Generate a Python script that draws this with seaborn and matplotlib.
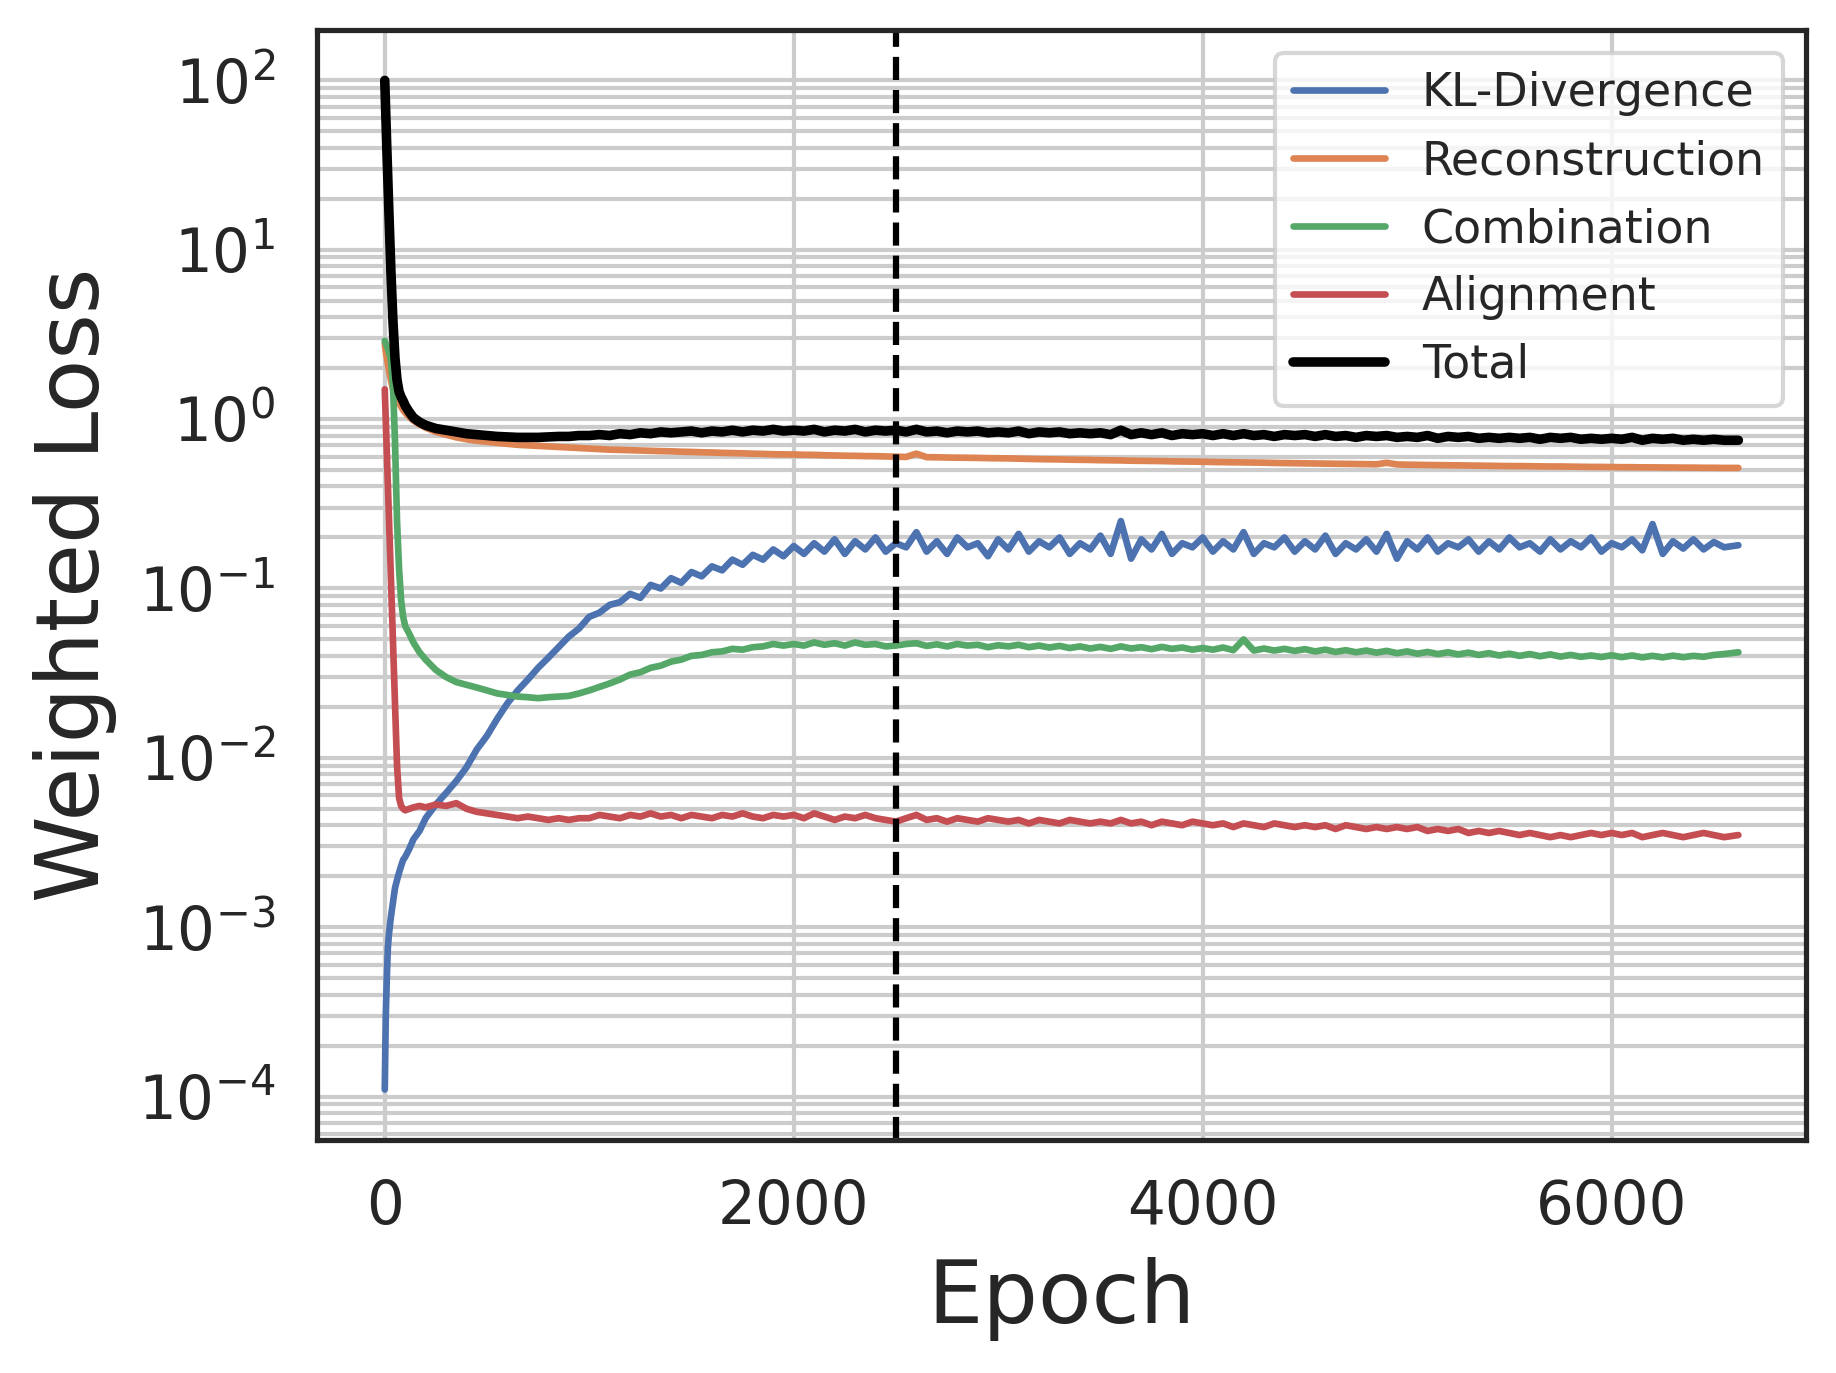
""" Weighted training losses per epoch on a log scale """

import matplotlib
matplotlib.use("Agg")
import matplotlib.pyplot as plt
import pandas as pd
import seaborn as sns


epochs = [0, 5, 10, 15, 20, 30, 40, 50, 60, 70, 80, 90, 100, 120, 140, 170,
          200, 250, 300, 350, 400, 450, 500, 550, 600, 650, 700, 750, 800, 850,
          900, 950,
          1000, 1050, 1100, 1150, 1200, 1250, 1300, 1350, 1400, 1450,
          1500, 1550, 1600, 1650, 1700, 1750, 1800, 1850, 1900, 1950,
          2000, 2050, 2100, 2150, 2200, 2250, 2300, 2350, 2400, 2450,
          2500, 2550, 2600, 2650, 2700, 2750, 2800, 2850, 2900, 2950,
          3000, 3050, 3100, 3150, 3200, 3250, 3300, 3350, 3400, 3450,
          3500, 3550, 3600, 3650, 3700, 3750, 3800, 3850, 3900, 3950,
          4000, 4050, 4100, 4150, 4200, 4250, 4300, 4350, 4400, 4450,
          4500, 4550, 4600, 4650, 4700, 4750, 4800, 4850, 4900, 4950,
          5000, 5050, 5100, 5150, 5200, 5250, 5300, 5350, 5400, 5450,
          5500, 5550, 5600, 5650, 5700, 5750, 5800, 5850, 5900, 5950,
          6000, 6050, 6100, 6150, 6200, 6250, 6300, 6350, 6400, 6450,
          6500, 6550, 6620]

kl_divergence = [1.1e-4, 3.0e-4, 5.0e-4, 7.5e-4, 9.0e-4, 1.15e-3, 1.4e-3, 1.7e-3,
                 1.9e-3, 2.1e-3, 2.3e-3, 2.5e-3, 2.6e-3, 2.9e-3, 3.3e-3, 3.7e-3,
                 4.4e-3, 5.3e-3, 6.2e-3, 7.3e-3, 8.8e-3, 0.0112, 0.0135, 0.017,
                 0.021, 0.025, 0.029, 0.034, 0.039, 0.045, 0.052, 0.058,
                 0.068, 0.072, 0.080, 0.083, 0.093, 0.088, 0.105, 0.100, 0.115, 0.108,
                 0.125, 0.118, 0.135, 0.128, 0.148, 0.138, 0.158, 0.148, 0.170, 0.155,
                 0.178, 0.160, 0.185, 0.165, 0.195, 0.160, 0.190, 0.170, 0.200, 0.165,
                 0.185, 0.175, 0.215, 0.165, 0.190, 0.160, 0.200, 0.175, 0.185, 0.155,
                 0.195, 0.170, 0.210, 0.165, 0.190, 0.175, 0.200, 0.160, 0.185, 0.170,
                 0.205, 0.160, 0.250, 0.150, 0.195, 0.170, 0.210, 0.160, 0.185, 0.175,
                 0.200, 0.165, 0.190, 0.170, 0.215, 0.160, 0.185, 0.175, 0.200, 0.165,
                 0.190, 0.170, 0.205, 0.160, 0.185, 0.170, 0.195, 0.165, 0.210, 0.150,
                 0.190, 0.170, 0.200, 0.165, 0.185, 0.175, 0.195, 0.165, 0.190, 0.170,
                 0.200, 0.175, 0.185, 0.165, 0.195, 0.170, 0.190, 0.175, 0.200, 0.165,
                 0.185, 0.175, 0.195, 0.168, 0.240, 0.160, 0.190, 0.172, 0.195, 0.170,
                 0.188, 0.175, 0.180]

reconstruction = [2.8, 2.5, 2.3, 2.1, 1.95, 1.7, 1.5, 1.38, 1.3, 1.24, 1.18, 1.13,
                  1.09, 1.03, 0.98, 0.93, 0.89, 0.84, 0.81, 0.78, 0.76, 0.745, 0.735,
                  0.725, 0.715, 0.705, 0.70, 0.695, 0.69, 0.685, 0.68, 0.675,
                  0.670, 0.665, 0.660, 0.658, 0.655, 0.652, 0.650, 0.647, 0.645, 0.642,
                  0.640, 0.637, 0.635, 0.632, 0.630, 0.628, 0.625, 0.623, 0.620, 0.619,
                  0.618, 0.616, 0.615, 0.612, 0.610, 0.608, 0.607, 0.605, 0.604, 0.602,
                  0.600, 0.598, 0.625, 0.596, 0.595, 0.593, 0.592, 0.591, 0.590, 0.588,
                  0.587, 0.586, 0.584, 0.582, 0.580, 0.579, 0.578, 0.576, 0.575, 0.574,
                  0.572, 0.571, 0.570, 0.568, 0.567, 0.566, 0.565, 0.563, 0.562, 0.561,
                  0.560, 0.558, 0.557, 0.556, 0.555, 0.554, 0.553, 0.551, 0.550, 0.549,
                  0.548, 0.547, 0.546, 0.545, 0.544, 0.543, 0.542, 0.541, 0.552, 0.540,
                  0.538, 0.537, 0.536, 0.535, 0.534, 0.533, 0.532, 0.531, 0.530, 0.529,
                  0.528, 0.528, 0.527, 0.526, 0.525, 0.525, 0.524, 0.523, 0.522, 0.522,
                  0.521, 0.520, 0.520, 0.519, 0.519, 0.518, 0.518, 0.517, 0.517, 0.516,
                  0.516, 0.515, 0.515]

combination = [2.9, 2.8, 2.7, 2.6, 2.5, 2.25, 1.6, 0.75, 0.25, 0.13, 0.085, 0.068,
               0.06, 0.054, 0.048, 0.042, 0.038, 0.033, 0.030, 0.028, 0.027, 0.026,
               0.025, 0.024, 0.0235, 0.023, 0.0228, 0.0225, 0.0228, 0.023, 0.0232, 0.024,
               0.0250, 0.0262, 0.0275, 0.0290, 0.0310, 0.0320, 0.0340, 0.0350, 0.0370, 0.0380,
               0.0400, 0.0405, 0.0420, 0.0425, 0.0440, 0.0435, 0.0450, 0.0455, 0.0470, 0.0460,
               0.0470, 0.0460, 0.0480, 0.0465, 0.0475, 0.0460, 0.0480, 0.0465, 0.0470, 0.0455,
               0.0460, 0.0470, 0.0475, 0.0458, 0.0468, 0.0455, 0.0470, 0.0460, 0.0465, 0.0450,
               0.0462, 0.0455, 0.0465, 0.0450, 0.0460, 0.0448, 0.0458, 0.0445, 0.0455, 0.0442,
               0.0452, 0.0440, 0.0455, 0.0442, 0.0450, 0.0438, 0.0452, 0.0440, 0.0448, 0.0435,
               0.0445, 0.0435, 0.0448, 0.0432, 0.0500, 0.0430, 0.0442, 0.0430, 0.0440, 0.0428,
               0.0438, 0.0425, 0.0435, 0.0422, 0.0432, 0.0420, 0.0430, 0.0418, 0.0428, 0.0415,
               0.0425, 0.0412, 0.0422, 0.0410, 0.0420, 0.0408, 0.0418, 0.0405, 0.0415, 0.0402,
               0.0412, 0.0400, 0.0410, 0.0398, 0.0408, 0.0396, 0.0405, 0.0395, 0.0402, 0.0394,
               0.0403, 0.0393, 0.0402, 0.0392, 0.0400, 0.0392, 0.0401, 0.0393, 0.0400, 0.0395,
               0.0405, 0.0410, 0.0420]

alignment = [1.5, 0.98, 0.64, 0.42, 0.27, 0.116, 0.05, 0.021, 0.009, 0.0058, 0.0052,
             0.005, 0.0049, 0.005, 0.0051, 0.0052, 0.0051, 0.0053, 0.0052, 0.0054,
             0.0050, 0.0048, 0.0047, 0.0046, 0.0045, 0.0044, 0.0045, 0.0044, 0.0043,
             0.0044, 0.0043, 0.0044,
             0.0044, 0.0046, 0.0045, 0.0044, 0.0046, 0.0045, 0.0047, 0.0045, 0.0046, 0.0044,
             0.0046, 0.0045, 0.0044, 0.0046, 0.0045, 0.0047, 0.0045, 0.0044, 0.0046, 0.0045,
             0.0046, 0.0044, 0.0047, 0.0045, 0.0043, 0.0045, 0.0044, 0.0046, 0.0044, 0.0043,
             0.0042, 0.0044, 0.0046, 0.0043, 0.0044, 0.0042, 0.0044, 0.0043, 0.0042, 0.0044,
             0.0043, 0.0042, 0.0043, 0.0041, 0.0043, 0.0042, 0.0041, 0.0043, 0.0042, 0.0041,
             0.0042, 0.0041, 0.0043, 0.0041, 0.0042, 0.0040, 0.0042, 0.0041, 0.0040, 0.0042,
             0.0041, 0.0040, 0.0041, 0.0039, 0.0041, 0.0040, 0.0039, 0.0041, 0.0040, 0.0039,
             0.0040, 0.0039, 0.0040, 0.0038, 0.0040, 0.0039, 0.0038, 0.0039, 0.0038, 0.0039,
             0.0038, 0.0039, 0.0037, 0.0038, 0.0037, 0.0038, 0.0036, 0.0037, 0.0036, 0.0037,
             0.0036, 0.0035, 0.0036, 0.0035, 0.0034, 0.0035, 0.0034, 0.0035, 0.0036, 0.0035,
             0.0036, 0.0035, 0.0036, 0.0034, 0.0035, 0.0036, 0.0035, 0.0034, 0.0035, 0.0036,
             0.0035, 0.0034, 0.0035]

total = [100, 62, 40, 26, 17, 7.5, 3.8, 2.3, 1.7, 1.45, 1.35, 1.28, 1.2, 1.1, 1.02,
         0.96, 0.92, 0.88, 0.86, 0.84, 0.82, 0.81, 0.80, 0.79, 0.785, 0.78, 0.78,
         0.78, 0.785, 0.79, 0.79, 0.80,
         0.80, 0.81, 0.80, 0.82, 0.81, 0.83, 0.82, 0.84, 0.83, 0.84,
         0.85, 0.83, 0.85, 0.84, 0.86, 0.84, 0.86, 0.85, 0.87, 0.85,
         0.86, 0.85, 0.87, 0.84, 0.86, 0.85, 0.87, 0.84, 0.86, 0.85,
         0.86, 0.84, 0.87, 0.84, 0.85, 0.83, 0.85, 0.84, 0.85, 0.83,
         0.84, 0.83, 0.85, 0.82, 0.84, 0.83, 0.84, 0.82, 0.83, 0.82,
         0.83, 0.81, 0.86, 0.81, 0.83, 0.81, 0.83, 0.80, 0.82, 0.81,
         0.82, 0.80, 0.82, 0.80, 0.82, 0.80, 0.81, 0.79, 0.81, 0.80,
         0.81, 0.79, 0.81, 0.79, 0.80, 0.78, 0.80, 0.79, 0.80, 0.78,
         0.79, 0.78, 0.80, 0.77, 0.79, 0.78, 0.79, 0.77, 0.78, 0.77,
         0.78, 0.77, 0.78, 0.76, 0.78, 0.77, 0.78, 0.76, 0.77, 0.76,
         0.77, 0.76, 0.78, 0.75, 0.77, 0.76, 0.77, 0.75, 0.76, 0.75,
         0.76, 0.75, 0.75]

series_names = ["KL-Divergence", "Reconstruction", "Combination", "Alignment"]
cutoff_epoch = 2500

losses = pd.DataFrame({"Epoch": epochs,
                       "KL-Divergence": kl_divergence,
                       "Reconstruction": reconstruction,
                       "Combination": combination,
                       "Alignment": alignment,
                       "Total": total})


# Plotting Phase

sns.set_style("white")
palette = sns.color_palette("deep")

figure = plt.figure(figsize=(6.12, 4.5767), dpi=300)
axes = figure.add_axes([0.1727, 0.1697, 0.8110, 0.8085])

for name, color in zip(series_names, palette):
    sns.lineplot(data=losses, x="Epoch", y=name, ax=axes, color=color,
                 label=name, linewidth=1.6, estimator=None)
sns.lineplot(data=losses, x="Epoch", y="Total", ax=axes, color="black",
             label="Total", linewidth=2.3, estimator=None)

axes.axvline(cutoff_epoch, color="black", linestyle="--", linewidth=1.5)

axes.set_yscale("log")
axes.grid(True, which="major", color=".8", linewidth=1)
axes.grid(True, which="minor", axis="y", color=".8", linewidth=1)
for spine in axes.spines.values():
    spine.set_color(".15")
    spine.set_linewidth(1.25)

axes.set_xticks([0, 2000, 4000, 6000])
axes.tick_params(axis="x", labelsize=14.3, pad=5.5, colors=".15")
axes.tick_params(axis="y", labelsize=14.3, pad=6.5, colors=".15")
axes.set_xlabel("Epoch", fontsize=21, labelpad=5, color=".15")
axes.set_ylabel("Weighted Loss", fontsize=21, labelpad=5, color=".15")

axes.legend(loc="upper right", fontsize=11)

figure.savefig("out.png", dpi=300)
